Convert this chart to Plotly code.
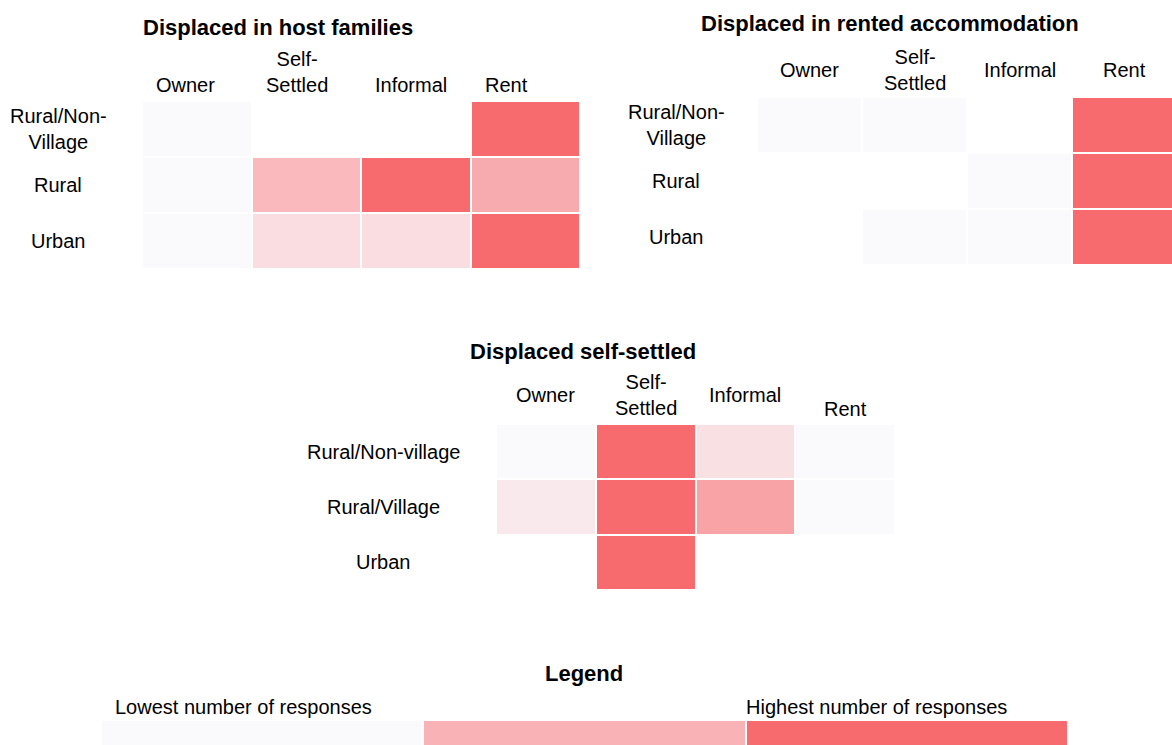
import plotly.graph_objects as go

# data
columns = ["Owner", "Self-Settled", "Informal", "Rent"]
column_labels = ["Owner", "Self-<br>Settled", "Informal", "Rent"]

host_rows = ["Rural/Non-<br>Village", "Rural", "Urban"]
host_values = [
    [0, None, None, 1],
    [0, 0.45, 1, 0.55],
    [0, 0.2, 0.2, 1],
]

rented_rows = ["Rural/Non-<br>Village", "Rural", "Urban"]
rented_values = [
    [0, 0, None, 1],
    [None, None, 0, 1],
    [None, 0, 0, 1],
]

self_rows = ["Rural/Non-village", "Rural/Village", "Urban"]
self_values = [
    [0, 1, 0.18, 0],
    [0.12, 1, 0.6, 0],
    [None, 1, None, None],
]

legend_steps = ["low", "mid", "high"]
legend_values = [[0, 0.5, 1]]

W, H = 1172, 745
FONT = "Liberation Sans Narrow, Arial Narrow, Liberation Sans, Arial, sans-serif"
scale = [[0, "#FAFAFD"], [1, "#F76A6E"]]


def px(x):
    return x / W


def py(y):
    return 1 - y / H


fig = go.Figure()

panels = [
    (host_rows, host_values, "", (142, 580), (101, 269)),
    (rented_rows, rented_values, "2", (757, W), (97, 265)),
    (self_rows, self_values, "3", (496, 895), (424, 590)),
]

for rows, vals, n, (x0, x1), (y0, y1) in panels:
    fig.add_trace(go.Heatmap(
        z=vals, x=columns, y=rows, xaxis="x" + n, yaxis="y" + n,
        colorscale=scale, zmin=0, zmax=1, showscale=False,
        xgap=2, ygap=2, hoverongaps=False,
    ))
    fig.update_layout(**{
        "xaxis" + n: dict(domain=[px(x0), px(x1)], visible=False, anchor="y" + n),
        "yaxis" + n: dict(domain=[py(y1), py(y0)], visible=False, autorange="reversed",
                          anchor="x" + n),
    })

# panel 2 is clipped at the right edge
fig.update_layout(xaxis2_range=[-0.5, 3.45], xaxis2_autorange=False)

fig.add_trace(go.Heatmap(
    z=legend_values, x=legend_steps, y=["legend"], xaxis="x4", yaxis="y4",
    colorscale=scale, zmin=0, zmax=1, showscale=False, xgap=2, hoverinfo="skip",
))
fig.update_layout(
    xaxis4=dict(domain=[px(101), px(1068)], visible=False, anchor="y4"),
    yaxis4=dict(domain=[0, py(721)], visible=False, anchor="x4"),
)

ann = []
tfont = dict(family=FONT, size=22, color="black")
lfont = dict(family=FONT, size=20, color="black")

# titles
for txt, x, y in [("Displaced in host families", 278, 28),
                  ("Displaced in rented accommodation", 890, 24),
                  ("Displaced self-settled", 583, 351),
                  ("Legend", 584, 673)]:
    ann.append(dict(text="<b>" + txt + "</b>", x=px(x), y=py(y), xref="paper", yref="paper",
                    xanchor="center", yanchor="middle", showarrow=False, font=tfont))

# column labels
for i, lab in enumerate(column_labels):
    ann.append(dict(text=lab, x=i - 0.5, y=py(98), xref="x", yref="paper",
                    xanchor="left", yanchor="bottom", xshift=12, showarrow=False, font=lfont))
    ann.append(dict(text=lab, x=columns[i], y=py(70), xref="x2", yref="paper",
                    xanchor="center", yanchor="middle", showarrow=False, font=lfont))
    ann.append(dict(text=lab, x=columns[i], y=py(395), xref="x3", yref="paper",
                    xanchor="center", yanchor="middle", showarrow=False, font=lfont,
                    yshift=-14 if lab == "Rent" else 0))

# row labels
for rows, n, x in [(host_rows, "", 58), (rented_rows, "2", 676), (self_rows, "3", 383)]:
    for r in rows:
        ann.append(dict(text=r, x=px(x), y=r, xref="paper", yref="y" + n,
                        xanchor="center", yanchor="middle", showarrow=False, font=lfont))

# legend texts
ann.append(dict(text="Lowest number of responses", x=px(113), y=py(707), xref="paper",
                yref="paper", xanchor="left", yanchor="middle", showarrow=False, font=lfont))
ann.append(dict(text="Highest number of responses", x=px(744), y=py(707), xref="paper",
                yref="paper", xanchor="left", yanchor="middle", showarrow=False, font=lfont))

fig.update_layout(
    width=W, height=H,
    margin=dict(l=0, r=0, t=0, b=0),
    paper_bgcolor="white", plot_bgcolor="white",
    annotations=ann,
    font=lfont,
)

# drop the default page margin so the figure sits at the window's corner
fig.write_html("out.html", config={"displayModeBar": False},
               post_script="document.body.style.margin='0';"
                           "document.body.style.overflow='hidden';")
